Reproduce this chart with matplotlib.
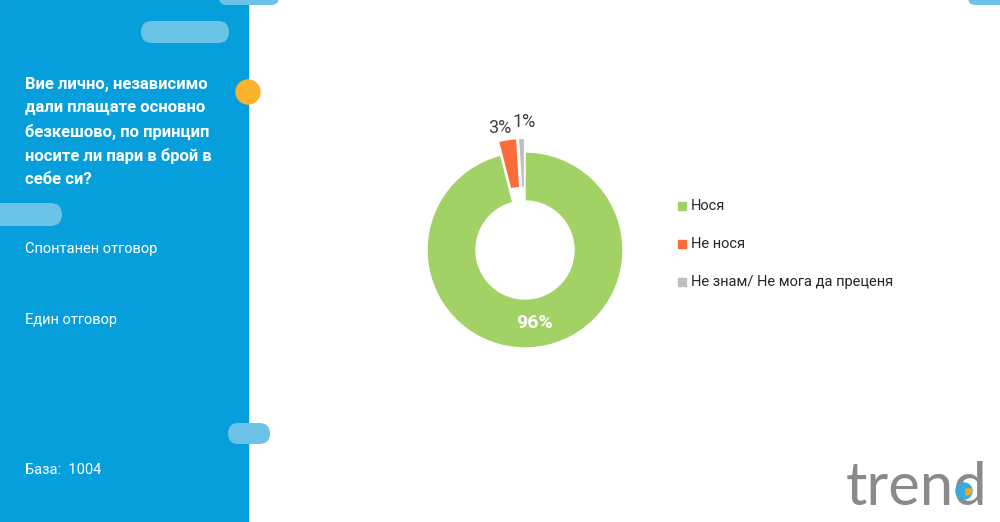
import numpy as np
import matplotlib
matplotlib.use("Agg")
import matplotlib.pyplot as plt
from matplotlib.patches import FancyBboxPatch, Rectangle, Circle, Wedge

plt.rcParams['font.family'] = ['Roboto', 'DejaVu Sans']

# data
categories = ['Нося', 'Не нося', 'Не знам/ Не мога да преценя']
values = [96, 3, 1]
colors = ['#a2d165', '#fe6b3a', '#bfbfbf']
explode = [0, 0.14, 0.14]

question = ('Вие лично, независимо\nдали плащате основно\nбезкешово, по принцип\n'
            'носите ли пари в брой в\nсебе си?')
note1 = 'Спонтанен отговор'
note2 = 'Един отговор'
base = 'База:  1004'

W, H = 1000, 522
fig = plt.figure(figsize=(W / 100, H / 100), dpi=100)

# overlay axes in pixel coords (y down)
bg = fig.add_axes([0, 0, 1, 1])
bg.set_xlim(0, W)
bg.set_ylim(H, 0)
bg.axis('off')

blue = '#069fdb'
pill = '#6cc3e8'
bg.add_patch(Rectangle((0, 0), 248, H, color=blue, zorder=1))

def add_pill(x0, y0, w, h):
    r = h / 2
    bg.add_patch(FancyBboxPatch((x0, y0), w, h,
                                boxstyle='round,pad=0,rounding_size=%g' % r,
                                color=pill, lw=0, zorder=2))

add_pill(219, -10, 60, 15)
add_pill(141, 21, 88, 22)
add_pill(-25, 203, 87, 23)
add_pill(228, 423, 42, 21)
add_pill(968, -10, 60, 15)
bg.add_patch(Circle((248, 92), 12, color='#fbb22c', zorder=3))

bg.text(25, 77, question, color='white', fontsize=12, fontweight='bold',
        va='top', ha='left', linespacing=1.66, zorder=4)
bg.text(25, 249, note1, color='white', fontsize=10.5, va='center', zorder=4)
bg.text(25, 320, note2, color='white', fontsize=10.5, va='center', zorder=4)
bg.text(25, 470, base, color='white', fontsize=10.5, va='center', zorder=4)

# legend
for i, (c, lab) in enumerate(zip(categories, colors)):
    y = 206 + i * 38
    bg.scatter([682], [y], marker='s', s=40, color=lab, zorder=4)
    bg.text(691, y, c, fontsize=10.5, color='#262626', va='center', zorder=4)

# logo
bg.text(846, 505, 'trend', fontsize=43, color='#8a8a8a', va='baseline',
        ha='left', family=['Lato', 'DejaVu Sans'], zorder=4)
bg.add_patch(Circle((964, 491), 8, color='#3aa9e0', zorder=5))
bg.add_patch(Wedge((966, 489), 6, 0, 90, color='#f6a623', zorder=6))

# donut
R = 98
lim = 1.3
ax = fig.add_axes([(525 - lim * R) / W, (H - 250 - lim * R) / H,
                   2 * lim * R / W, 2 * lim * R / H])
wedges, _ = ax.pie(values, colors=colors, explode=explode, startangle=90,
                   counterclock=False, radius=1,
                   wedgeprops=dict(width=0.5, edgecolor='white', linewidth=1))
ax.set_xlim(-lim, lim)
ax.set_ylim(-lim, lim)
ax.set_aspect('equal')
ax.axis('off')

for i, w in enumerate(wedges):
    ang = np.deg2rad((w.theta1 + w.theta2) / 2)
    if i == 0:
        r = 0.75
        ax.text(r * np.cos(ang), r * np.sin(ang), '%d%%' % values[i],
                color='white', fontsize=14, fontweight='bold',
                ha='center', va='center')
    else:
        off = [0, 2.5, -1.5][i]
        a = ang + np.deg2rad(off)
        r = [0, 1.27, 1.31][i]
        ax.text(r * np.cos(a), r * np.sin(a), '%d%%' % values[i],
                color='#404040', fontsize=13, ha='center', va='center')

fig.savefig('out.png', dpi=100)
